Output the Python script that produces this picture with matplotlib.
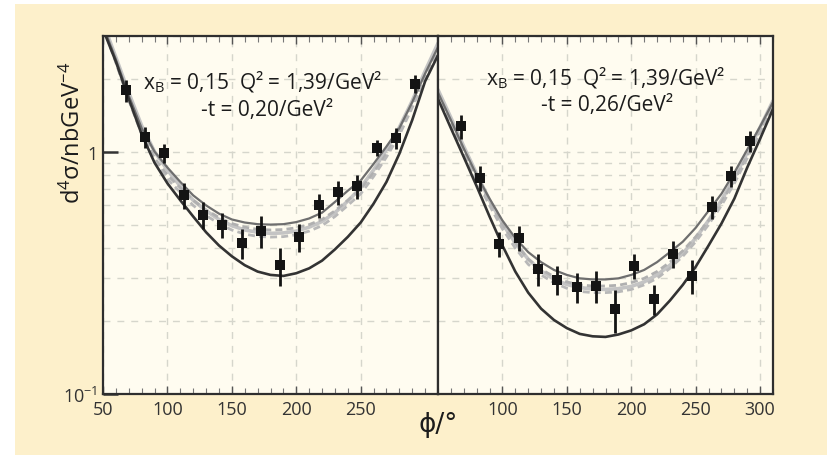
import matplotlib
matplotlib.use("Agg")
import matplotlib.pyplot as plt
from matplotlib.patches import Rectangle
from matplotlib.ticker import FixedLocator, MultipleLocator, LogLocator, NullFormatter

plt.rcParams['font.family'] = ['Open Sans', 'DejaVu Sans']
plt.rcParams['mathtext.default'] = 'regular'

# ---------------- data ----------------
phi_bins = [67.5, 82.5, 97.5, 112.5, 127.5, 142.5, 157.5, 172.5,
            187.5, 202.5, 217.5, 232.5, 247.5, 262.5, 277.5, 292.5]

left_xs = [1.79, 1.15, 0.99, 0.66, 0.55, 0.50, 0.42, 0.47,
           0.34, 0.445, 0.60, 0.68, 0.72, 1.04, 1.14, 1.91]
left_err = [0.18, 0.115, 0.09, 0.08, 0.07, 0.06, 0.06, 0.07,
            0.06, 0.06, 0.07, 0.08, 0.08, 0.08, 0.11, 0.17]

right_xs = [1.27, 0.78, 0.417, 0.441, 0.329, 0.296, 0.277, 0.279,
            0.224, 0.338, 0.247, 0.379, 0.307, 0.593, 0.796, 1.11]
right_err = [0.14, 0.094, 0.05, 0.053, 0.05, 0.041, 0.039, 0.042,
             0.045, 0.041, 0.035, 0.049, 0.049, 0.065, 0.08, 0.11]

phi_curve = [50, 60, 70, 80, 90, 100, 110, 120, 130, 140, 150, 160, 170, 180,
             190, 200, 210, 220, 230, 240, 250, 260, 270, 280, 290, 300, 310]

# left panel model curves
left_dark = [3.2, 2.35, 1.65, 1.18, 0.90, 0.74, 0.63, 0.54, 0.465, 0.41, 0.37, 0.34, 0.32, 0.31,
             0.307, 0.315, 0.33, 0.355, 0.395, 0.445, 0.51, 0.61, 0.75, 0.98, 1.35, 1.95, 2.5]
left_upper = [3.3, 2.4, 1.7, 1.25, 1.0, 0.86, 0.75, 0.66, 0.60, 0.555, 0.525, 0.51, 0.502, 0.50,
              0.502, 0.512, 0.53, 0.56, 0.62, 0.69, 0.76, 0.89, 1.05, 1.25, 1.6, 2.1, 2.7]
left_light = [3.4, 2.45, 1.75, 1.28, 1.0, 0.84, 0.72, 0.63, 0.57, 0.525, 0.495, 0.475, 0.465, 0.46,
              0.462, 0.47, 0.488, 0.515, 0.56, 0.625, 0.71, 0.84, 1.02, 1.26, 1.62, 2.15, 2.8]
left_dash1 = [3.3, 2.35, 1.65, 1.2, 0.94, 0.80, 0.71, 0.63, 0.575, 0.535, 0.505, 0.488, 0.478, 0.475,
              0.477, 0.485, 0.50, 0.525, 0.57, 0.63, 0.70, 0.82, 0.98, 1.2, 1.55, 2.05, 2.65]
left_dash2 = [3.3, 2.33, 1.63, 1.18, 0.91, 0.77, 0.68, 0.60, 0.545, 0.505, 0.475, 0.457, 0.447, 0.444,
              0.446, 0.454, 0.47, 0.495, 0.54, 0.60, 0.67, 0.79, 0.95, 1.17, 1.52, 2.0, 2.6]

# right panel model curves
right_dark = [1.65, 1.25, 0.95, 0.72, 0.54, 0.41, 0.32, 0.262, 0.225, 0.202, 0.187, 0.177, 0.173, 0.172,
              0.176, 0.183, 0.194, 0.213, 0.243, 0.282, 0.335, 0.41, 0.505, 0.64, 0.86, 1.13, 1.5]
right_upper = [1.75, 1.35, 1.03, 0.80, 0.64, 0.52, 0.44, 0.385, 0.35, 0.325, 0.31, 0.30, 0.297, 0.297,
               0.30, 0.31, 0.325, 0.35, 0.385, 0.425, 0.485, 0.57, 0.67, 0.82, 1.02, 1.27, 1.6]
right_light = [1.8, 1.38, 1.05, 0.81, 0.63, 0.505, 0.42, 0.36, 0.322, 0.298, 0.283, 0.275, 0.271, 0.27,
               0.272, 0.278, 0.29, 0.31, 0.34, 0.38, 0.44, 0.52, 0.63, 0.78, 0.99, 1.26, 1.62]
right_dash1 = [1.75, 1.33, 1.01, 0.78, 0.62, 0.50, 0.42, 0.36, 0.327, 0.305, 0.29, 0.282, 0.279, 0.279,
               0.281, 0.288, 0.30, 0.32, 0.35, 0.39, 0.445, 0.52, 0.62, 0.76, 0.96, 1.22, 1.58]
right_dash2 = [1.73, 1.31, 0.99, 0.76, 0.60, 0.48, 0.40, 0.343, 0.31, 0.288, 0.273, 0.265, 0.262, 0.262,
               0.264, 0.27, 0.282, 0.30, 0.33, 0.37, 0.425, 0.50, 0.60, 0.74, 0.94, 1.2, 1.56]

left_text = ['x$_B$ = 0,15  Q² = 1,39/GeV²', '-t = 0,20/GeV²']
right_text = ['x$_B$ = 0,15  Q² = 1,39/GeV²', '-t = 0,26/GeV²']
left_xticks = [50, 100, 150, 200, 250]
right_xticks = [100, 150, 200, 250, 300]
yticks = [0.1, 1]
ytick_labels = ['10$^{-1}$', '1']

# ---------------- figure ----------------
W, H = 828, 456
fig = plt.figure(figsize=(W / 100, H / 100), dpi=100, facecolor='white')
fig.patches.append(Rectangle((15 / W, 0), 1 - 15 / W, 1 - 5 / H, transform=fig.transFigure,
                             facecolor='#FDF0CB', edgecolor='none', zorder=-10))

x0, xm, x1 = 103 / W, 438 / W, 773 / W
yb, yt = 1 - 395 / H, 1 - 37 / H
axL = fig.add_axes([x0, yb, xm - x0, yt - yb])
axR = fig.add_axes([xm, yb, x1 - xm, yt - yb])

frame_col = '#2e2e2e'
grid_col = '#d6d6cc'
text_col = '#1c1c1c'

def draw_panel(ax, xs, err, dark, upper, light, d1, d2, texts, xticks, show_y):
    ax.set_facecolor('#FFFCF0')
    ax.set_yscale('log')
    ax.set_xlim(50, 310)
    ax.set_ylim(0.1, 3.0)
    # grid
    ax.yaxis.set_minor_locator(LogLocator(base=10, subs=range(2, 10)))
    ax.yaxis.set_minor_formatter(NullFormatter())
    ax.grid(True, which='both', axis='y', color=grid_col, lw=1.0, ls=(0, (5, 5)), zorder=0)
    ax.xaxis.set_major_locator(MultipleLocator(50))
    ax.xaxis.set_minor_locator(MultipleLocator(10))
    ax.grid(True, which='major', axis='x', color=grid_col, lw=1.0, ls=(0, (5, 5)), zorder=0)
    # curves
    ax.plot(phi_curve, light, color='#c4c4c4', lw=2.6, zorder=2, solid_capstyle='round')
    ax.plot(phi_curve, d1, color='#b0b0b0', lw=2.0, ls=(0, (2.5, 1.5)), zorder=2)
    ax.plot(phi_curve, d2, color='#b8b8b8', lw=2.0, ls=(0, (2.5, 1.5)), zorder=2)
    ax.plot(phi_curve, upper, color='#6e6e6e', lw=1.6, zorder=3)
    ax.plot(phi_curve, dark, color='#333333', lw=1.9, zorder=3)
    # data
    ax.errorbar(phi_bins, xs, yerr=err, fmt='s', color='#141414', ms=7.5, mew=0,
                elinewidth=2.0, capsize=0, zorder=5)
    # text
    ax.text(0.475 if show_y else 0.50, 0.872 if show_y else 0.885, texts[0], transform=ax.transAxes,
            ha='center', va='center', fontsize=15, color=text_col)
    ax.text(0.49 if show_y else 0.505, 0.796 if show_y else 0.81, texts[1], transform=ax.transAxes,
            ha='center', va='center', fontsize=15, color=text_col)
    # ticks
    ax.set_xticks(xticks)
    ax.set_xticklabels([str(v) for v in xticks])
    ax.xaxis.set_minor_locator(MultipleLocator(10))
    ax.tick_params(axis='x', which='major', direction='in', top=True, length=6, width=1,
                   color='#555555', labelsize=13, labelcolor='#333333', pad=4)
    ax.tick_params(axis='x', which='minor', direction='in', top=True, length=4, width=0.8,
                   color='#777777')
    ax.tick_params(axis='y', which='minor', length=0)
    if show_y:
        ax.yaxis.set_major_locator(FixedLocator(yticks))
        ax.set_yticklabels(ytick_labels)
        ax.tick_params(axis='y', which='major', direction='in', length=11, width=1.8,
                       color='#333333', labelsize=13, labelcolor='#333333', pad=4)
    else:
        ax.yaxis.set_major_locator(FixedLocator(yticks))
        ax.tick_params(axis='y', which='major', length=0, labelleft=False)
    for sp in ax.spines.values():
        sp.set_color(frame_col)
        sp.set_linewidth(1.6)
        sp.set_zorder(6)

draw_panel(axL, left_xs, left_err, left_dark, left_upper, left_light, left_dash1, left_dash2,
           left_text, left_xticks, True)
draw_panel(axR, right_xs, right_err, right_dark, right_upper, right_light, right_dash1, right_dash2,
           right_text, right_xticks, False)

fig.text(73 / W, 1 - 133 / H, 'd$^4$σ/nbGeV$^{-4}$', rotation=90, ha='center', va='center',
         fontsize=17, color=text_col)
fig.text(438 / W, 1 - 425 / H, 'ϕ/°', ha='center', va='center', fontsize=19, color=text_col,
         family=['DejaVu Sans'])

fig.savefig('out.png', dpi=100, facecolor=fig.get_facecolor())
